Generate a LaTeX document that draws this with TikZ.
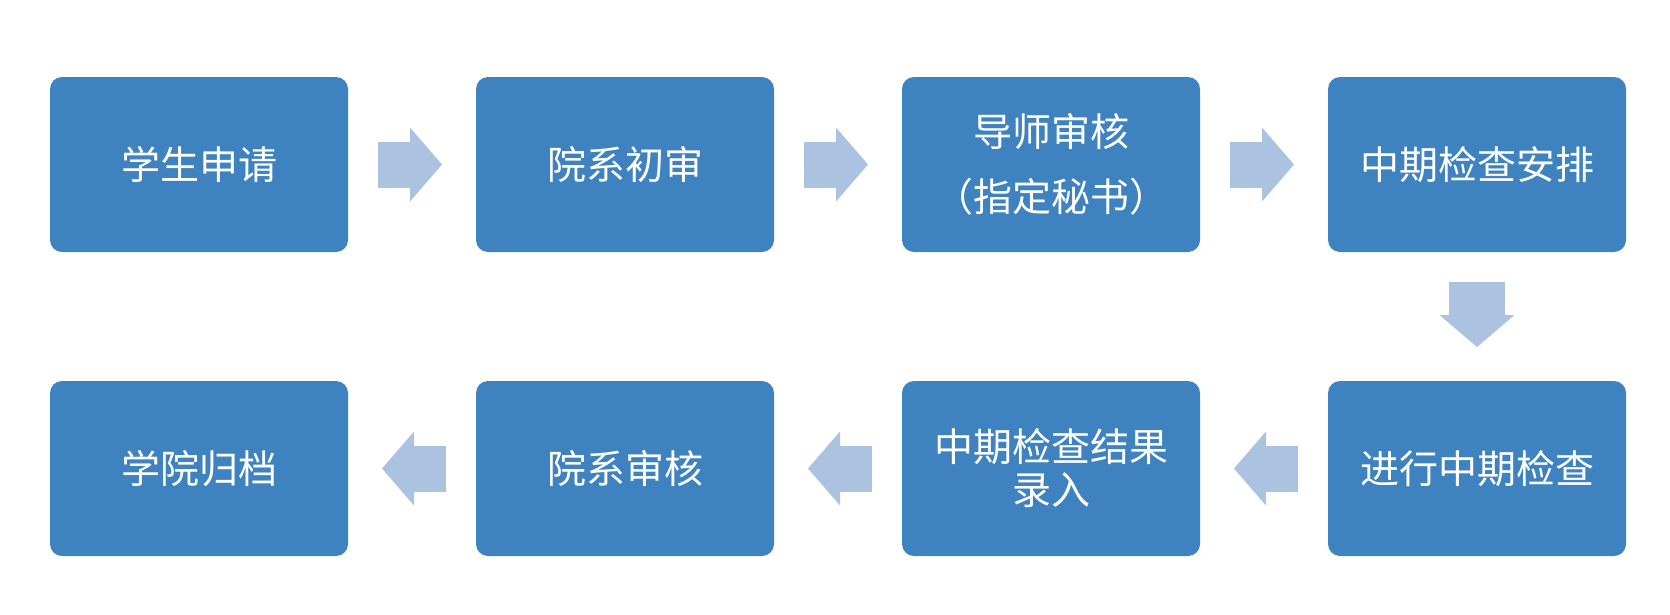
\documentclass[tikz,border=0pt]{standalone}
\usepackage{fontspec}
\newfontfamily\cjk{Noto Sans CJK SC}
\usetikzlibrary{arrows.meta, positioning}
\definecolor{boxblue}{RGB}{62,130,192}
\definecolor{arrowblue}{RGB}{171,194,224}

\begin{document}
\begin{tikzpicture}[x=1pt, y=-1pt, node distance=129pt and 128pt,
  stage/.style={fill=boxblue, rounded corners=12pt, minimum width=298pt, minimum height=175pt, inner sep=0pt, outer sep=0pt, align=center, text=white, font=\cjk\fontsize{39pt}{43pt}\selectfont},
  flow/.style={arrowblue, line width=46pt, -{Triangle[length=32pt, width=74pt, line width=0pt]}, shorten <=30pt, shorten >=34pt},
  flowdown/.style={flow, line width=56pt, -{Triangle[length=32pt, width=75pt, line width=0pt]}}]
\useasboundingbox (0,0) rectangle (1670,614);
% first row, left to right
\node[stage] (apply) at (199,164.5) {学生申请};
\node[stage, right=of apply] (dept1) {院系初审};
\node[stage, right=of dept1] (tutor) {导师审核\\[22pt]（指定秘书）};
\node[stage, right=of tutor] (plan) {中期检查安排};
% second row, right to left
\node[stage, below=of plan] (check) {进行中期检查};
\node[stage, left=of check] (record) {中期检查结果\\录入};
\node[stage, left=of record] (dept2) {院系审核};
\node[stage, left=of dept2] (archive) {学院归档};
\draw[flow] (apply) -- (dept1);
\draw[flow] (dept1) -- (tutor);
\draw[flow] (tutor) -- (plan);
\draw[flowdown] (plan) -- (check);
\draw[flow] (check) -- (record);
\draw[flow] (record) -- (dept2);
\draw[flow] (dept2) -- (archive);
\end{tikzpicture}
\end{document}
